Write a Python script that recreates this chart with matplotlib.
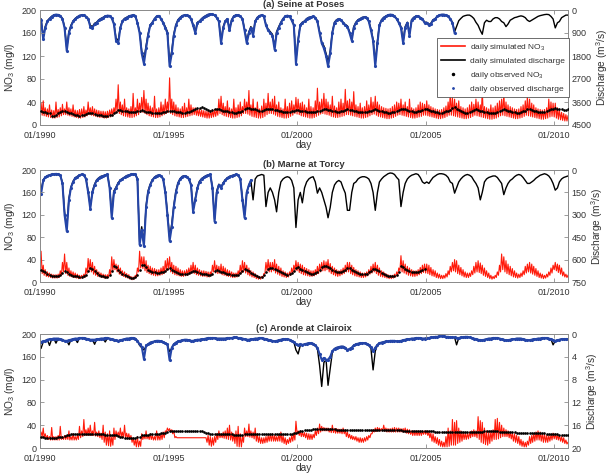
import matplotlib
matplotlib.use("Agg")
import matplotlib.pyplot as plt
import matplotlib.dates as mdates
from matplotlib.lines import Line2D
import pandas as pd

plt.rcParams['font.family'] = ['Liberation Sans', 'DejaVu Sans']
plt.rcParams['mathtext.fontset'] = 'custom'
plt.rcParams['mathtext.rm'] = 'Liberation Sans'
plt.rcParams['mathtext.it'] = 'Liberation Sans:italic'
plt.rcParams['mathtext.bf'] = 'Liberation Sans:bold'

# ---------------- data (monthly readings, Jan 1990 .. Jul 2010) ----------------
titles = ["(a) Seine at Poses", "(b) Marne at Torcy", "(c) Aronde at Clairoix"]
q_limits = [4500, 750, 20]
q_ticks = [[0, 900, 1800, 2700, 3600, 4500], [0, 150, 300, 450, 600, 750], [0, 4, 8, 12, 16, 20]]
no3_ticks = [0, 40, 80, 120, 160, 200]
year_ticks = [1990, 1995, 2000, 2005, 2010]

# ---- Seine ----
seine_q_obs = [
    380, 1150, 700, 450, 350, 260, 200, 180, 190, 230, 350, 700,
    1600, 900, 650, 450, 350, 280, 220, 200, 210, 260, 350, 650,
    700, 550, 500, 400, 350, 300, 250, 220, 230, 320, 550, 1200,
    1300, 700, 450, 350, 300, 250, 220, 200, 230, 500, 900, 1700,
    2100, 1500, 1000, 600, 500, 350, 250, 230, 350, 500, 700, 900,
    2200, 1700, 1000, 600, 400, 300, 230, 200, 210, 250, 350, 600,
    900, 500, 450, 350, 280, 230, 180, 160, 170, 200, 300, 450,
    1300, 700, 450, 350, 800, 400, 250, 200, 200, 250, 350, 800,
    1300, 900, 700, 1000, 450, 300, 230, 200, 250, 600, 800, 900,
    1000, 1550, 900, 700, 500, 350, 250, 220, 250, 400, 600, 2100,
    1200, 600, 500, 450, 350, 300, 280, 250, 300, 450, 900, 1300,
    1500, 1800, 2200, 1700, 900, 500, 400, 350, 400, 500, 600, 650,
    900, 1200, 700, 500, 400, 350, 300, 280, 300, 450, 800, 1200,
    2200, 1300, 600, 400, 300, 250, 200, 180, 190, 250, 350, 500,
    700, 1300, 700, 500, 1000, 400, 300, 250, 250, 300, 350, 500,
    500, 600, 550, 400, 350, 250, 200, 180, 180, 200, 250, 350,
    500, 900]
seine_q_sim = [
    350, 1050, 650, 420, 330, 250, 200, 180, 190, 220, 330, 650,
    1500, 850, 600, 430, 330, 270, 220, 200, 210, 250, 330, 600,
    650, 520, 480, 380, 330, 290, 240, 220, 230, 300, 520, 1100,
    1200, 650, 430, 330, 290, 240, 220, 200, 220, 480, 850, 1600,
    1950, 1400, 950, 580, 480, 340, 250, 230, 330, 480, 650, 850,
    2050, 1600, 950, 580, 380, 290, 230, 200, 210, 240, 330, 570,
    850, 480, 430, 340, 270, 220, 180, 160, 170, 200, 290, 430,
    1200, 650, 430, 340, 750, 380, 240, 200, 200, 240, 340, 750,
    1200, 850, 650, 950, 430, 290, 230, 200, 240, 570, 750, 850,
    950, 1450, 850, 650, 480, 340, 250, 220, 240, 380, 570, 1950,
    1150, 570, 480, 430, 340, 290, 270, 250, 290, 430, 850, 1250,
    1400, 1700, 2050, 1600, 850, 480, 380, 340, 380, 480, 570, 620,
    850, 1150, 650, 480, 380, 340, 290, 270, 290, 430, 750, 1150,
    2050, 1200, 570, 380, 290, 240, 200, 180, 190, 240, 340, 480,
    650, 1200, 650, 480, 950, 380, 290, 240, 240, 290, 340, 480,
    480, 570, 520, 380, 340, 240, 200, 180, 180, 200, 240, 340,
    480, 850, 650, 420, 330, 250, 220, 200, 200, 250, 330, 480,
    600, 800, 950, 500, 400, 450, 450, 350, 300, 300, 350, 450,
    500, 650, 550, 400, 350, 300, 280, 250, 230, 250, 300, 400,
    450, 400, 350, 300, 250, 220, 200, 180, 170, 180, 250, 350,
    700, 500, 450, 300, 250, 200, 200]
seine_no3_lo = [
    18, 17, 16, 15, 14, 13, 12, 12, 13, 14, 16, 18,
    18, 17, 16, 15, 14, 13, 12, 12, 13, 14, 16, 18,
    17, 16, 15, 14, 13, 13, 12, 12, 13, 14, 16, 20,
    22, 20, 18, 16, 15, 14, 13, 13, 14, 16, 18, 22,
    22, 20, 18, 16, 15, 14, 13, 13, 14, 16, 18, 20,
    22, 20, 18, 16, 15, 14, 13, 13, 14, 15, 16, 17,
    18, 17, 16, 15, 14, 13, 12, 12, 13, 14, 15, 17,
    20, 18, 16, 15, 14, 13, 12, 12, 13, 14, 16, 20,
    20, 19, 17, 15, 14, 13, 12, 12, 13, 15, 18, 20,
    20, 19, 17, 15, 14, 13, 12, 12, 13, 15, 17, 20,
    19, 18, 16, 15, 14, 13, 12, 12, 13, 15, 17, 19,
    20, 19, 18, 17, 15, 14, 13, 13, 14, 15, 16, 18,
    18, 17, 16, 15, 14, 13, 12, 12, 13, 14, 16, 18,
    19, 17, 15, 14, 13, 12, 11, 11, 12, 13, 15, 17,
    18, 17, 16, 15, 14, 13, 12, 12, 13, 14, 15, 17,
    17, 16, 15, 14, 13, 12, 11, 11, 12, 13, 15, 17,
    17, 16, 15, 14, 13, 12, 11, 11, 12, 13, 15, 17,
    16, 15, 14, 13, 12, 11, 10, 10, 11, 12, 14, 16,
    17, 16, 15, 14, 13, 12, 11, 11, 12, 13, 15, 17,
    16, 15, 14, 13, 12, 11, 10, 10, 11, 12, 14, 15,
    14, 12, 10, 9, 8, 7, 7]
seine_no3_hi = [
    38, 42, 30, 28, 35, 26, 25, 40, 27, 30, 36, 28,
    40, 30, 28, 35, 26, 25, 27, 28, 32, 26, 40, 30,
    32, 28, 26, 25, 24, 24, 23, 24, 26, 28, 30, 45,
    70, 40, 35, 45, 30, 28, 32, 55, 30, 45, 38, 48,
    60, 45, 38, 33, 30, 50, 28, 30, 40, 35, 45, 40,
    82, 45, 40, 35, 30, 28, 32, 38, 30, 45, 35, 30,
    30, 28, 27, 26, 25, 24, 24, 25, 26, 27, 28, 45,
    50, 38, 32, 42, 30, 28, 45, 30, 35, 40, 32, 45,
    40, 60, 35, 45, 30, 40, 28, 33, 45, 38, 55, 40,
    45, 50, 35, 40, 30, 28, 45, 32, 38, 42, 35, 48,
    45, 38, 40, 35, 30, 45, 32, 30, 42, 64, 40, 45,
    55, 45, 40, 35, 50, 33, 30, 40, 45, 38, 62, 42,
    45, 40, 58, 35, 32, 38, 30, 32, 42, 35, 48, 40,
    50, 40, 35, 32, 30, 29, 28, 29, 32, 35, 40, 38,
    45, 35, 40, 32, 45, 30, 28, 30, 35, 40, 38, 36,
    42, 35, 32, 30, 28, 27, 26, 27, 30, 33, 40, 55,
    48, 45, 38, 42, 32, 30, 28, 30, 35, 40, 36, 45,
    40, 35, 60, 32, 30, 28, 35, 30, 33, 38, 42, 45,
    55, 40, 35, 32, 30, 28, 27, 28, 32, 35, 42, 50,
    45, 38, 35, 30, 28, 27, 26, 27, 30, 45, 40, 38,
    38, 30, 26, 22, 20, 18, 16]
seine_no3_obs = [
    24, 23, 22, 21, 20, 16, 15, 17, 20, 22, 24, 24,
    22, 21, 20, 19, 18, 17, 16, 17, 18, 19, 20, 21,
    20, 19, 18, 18, 17, 16, 16, 16, 17, 18, 20, 22,
    26, 26, 25, 24, 24, 23, 22, 22, 23, 24, 25, 26,
    24, 23, 22, 22, 21, 21, 20, 20, 21, 22, 23, 24,
    25, 24, 24, 23, 23, 22, 21, 21, 22, 23, 24, 26,
    28, 29, 30, 31, 30, 28, 26, 25, 26, 27, 28, 27,
    26, 25, 24, 24, 23, 22, 21, 21, 22, 23, 24, 28,
    30, 29, 28, 28, 27, 26, 25, 25, 26, 27, 28, 28,
    27, 26, 26, 25, 24, 23, 22, 22, 23, 24, 25, 26,
    26, 25, 25, 24, 23, 22, 22, 22, 23, 24, 25, 26,
    27, 27, 26, 26, 25, 24, 23, 23, 24, 25, 26, 27,
    26, 26, 25, 24, 23, 23, 22, 22, 23, 24, 25, 26,
    27, 26, 25, 24, 23, 22, 21, 21, 22, 23, 24, 26,
    28, 28, 27, 26, 25, 24, 23, 23, 24, 25, 26, 27,
    27, 26, 25, 24, 23, 22, 21, 21, 22, 24, 25, 26,
    30, 31, 28, 26, 24, 22, 21, 21, 22, 24, 26, 28,
    26, 25, 24, 23, 22, 21, 20, 20, 21, 23, 24, 26,
    27, 26, 25, 24, 23, 22, 21, 21, 22, 24, 25, 27,
    27, 26, 25, 24, 23, 22, 22, 23, 24, 26, 27, 28,
    29, 28, 28, 27, 26, 26, 27]

# ---- Marne ----
marne_q_obs = [
    160, 70, 50, 40, 35, 30, 28, 26, 28, 35, 90, 300,
    410, 200, 120, 80, 55, 45, 35, 30, 32, 60, 150, 260,
    150, 100, 70, 55, 45, 40, 35, 30, 120, 320, 150, 120,
    90, 70, 60, 50, 40, 35, 30, 28, 30, 60, 500, 400,
    510, 250, 150, 100, 70, 50, 40, 35, 40, 60, 150, 300,
    475, 380, 250, 150, 90, 60, 45, 40, 45, 60, 100, 280,
    200, 120, 80, 60, 50, 40, 35, 30, 120, 345, 150, 100,
    120, 90, 70, 55, 45, 40, 35, 30, 35, 60, 200, 320,
    150, 100, 70]
marne_q_sim = [
    140, 65, 48, 38, 33, 29, 27, 25, 27, 33, 85, 280,
    390, 190, 115, 75, 52, 43, 34, 29, 31, 57, 140, 245,
    140, 95, 66, 52, 43, 38, 34, 29, 115, 300, 140, 115,
    85, 66, 57, 48, 38, 34, 29, 27, 29, 57, 480, 380,
    490, 240, 140, 95, 66, 48, 38, 34, 38, 57, 140, 285,
    450, 360, 240, 140, 85, 57, 43, 38, 43, 57, 95, 265,
    190, 115, 75, 57, 48, 38, 34, 29, 115, 330, 140, 95,
    115, 85, 66, 52, 43, 38, 34, 29, 34, 57, 190, 300,
    150, 100, 70, 200, 60, 40, 35, 30, 35, 245, 150, 120,
    150, 200, 280, 150, 80, 60, 50, 45, 50, 70, 120, 385,
    200, 150, 220, 120, 80, 60, 50, 45, 80, 155, 120, 150,
    200, 250, 320, 250, 150, 100, 80, 70, 80, 120, 155, 270,
    270, 150, 90, 80, 60, 50, 45, 45, 50, 60, 90, 150,
    270, 150, 80, 60, 45, 35, 25, 20, 22, 30, 50, 65,
    245, 150, 90, 60, 45, 35, 30, 25, 30, 50, 80, 90,
    80, 90, 70, 50, 40, 30, 25, 25, 28, 35, 50, 80,
    90, 155, 120, 80, 60, 45, 35, 30, 35, 45, 70, 90,
    120, 200, 150, 80, 60, 50, 45, 40, 40, 50, 70, 90,
    165, 120, 90, 70, 60, 45, 35, 30, 35, 50, 70, 90,
    90, 80, 70, 55, 45, 35, 30, 25, 30, 40, 60, 90,
    135, 120, 80, 60, 50, 45, 40]
marne_no3_lo = [
    18, 15, 12, 10, 9, 8, 7, 7, 7, 8, 12, 18,
    15, 12, 10, 9, 8, 7, 6, 6, 7, 8, 15, 20,
    18, 14, 12, 10, 9, 8, 7, 7, 8, 12, 20, 22,
    18, 14, 12, 10, 8, 7, 5, 4, 5, 8, 18, 25,
    24, 20, 17, 15, 13, 12, 11, 11, 12, 13, 15, 20,
    22, 18, 15, 13, 12, 11, 10, 10, 11, 12, 14, 16,
    15, 13, 12, 11, 10, 10, 9, 9, 12, 18, 16, 15,
    15, 13, 12, 11, 10, 9, 8, 8, 9, 12, 16, 18,
    16, 13, 11, 9, 8, 6, 5, 5, 7, 15, 20, 18,
    18, 20, 16, 14, 12, 10, 9, 8, 9, 12, 15, 20,
    20, 17, 15, 13, 12, 11, 10, 10, 11, 13, 15, 18,
    20, 20, 22, 18, 15, 13, 11, 10, 11, 13, 15, 18,
    18, 15, 13, 11, 10, 9, 8, 8, 9, 11, 14, 16,
    18, 15, 12, 10, 9, 8, 7, 6, 6, 7, 9, 12,
    20, 18, 16, 14, 12, 11, 10, 10, 11, 13, 15, 17,
    16, 15, 13, 11, 10, 8, 7, 6, 6, 7, 9, 13,
    18, 20, 18, 15, 13, 11, 9, 8, 8, 10, 13, 16,
    18, 17, 15, 12, 10, 8, 6, 5, 6, 8, 12, 18,
    22, 18, 15, 13, 11, 9, 8, 7, 8, 10, 13, 16,
    18, 16, 14, 12, 10, 8, 7, 6, 7, 9, 12, 16,
    22, 20, 17, 14, 11, 9, 8]
marne_no3_hi = [
    55, 30, 22, 18, 16, 14, 13, 13, 14, 20, 35, 50,
    35, 25, 20, 18, 16, 14, 12, 12, 14, 25, 42, 40,
    35, 28, 22, 18, 16, 14, 13, 13, 22, 45, 40, 32,
    30, 25, 20, 18, 15, 13, 10, 9, 12, 25, 55, 45,
    45, 38, 30, 28, 25, 24, 22, 22, 25, 28, 38, 42,
    45, 35, 30, 28, 25, 22, 20, 20, 22, 25, 30, 35,
    30, 25, 22, 20, 20, 19, 18, 18, 30, 38, 30, 28,
    32, 28, 25, 22, 20, 18, 16, 16, 20, 30, 38, 35,
    30, 25, 20, 18, 15, 12, 10, 10, 15, 35, 40, 35,
    35, 40, 32, 28, 25, 20, 18, 16, 18, 25, 30, 38,
    35, 32, 30, 26, 24, 22, 20, 20, 22, 28, 32, 35,
    38, 36, 40, 33, 28, 25, 22, 20, 22, 25, 30, 35,
    35, 30, 26, 22, 20, 18, 16, 16, 18, 22, 28, 32,
    35, 30, 25, 20, 18, 15, 13, 12, 12, 14, 18, 25,
    47, 38, 32, 28, 25, 22, 20, 20, 22, 26, 30, 32,
    32, 30, 26, 22, 20, 16, 14, 12, 12, 15, 20, 28,
    35, 40, 38, 30, 26, 22, 18, 16, 16, 20, 28, 35,
    38, 34, 30, 25, 20, 16, 12, 10, 12, 18, 30, 50,
    45, 38, 32, 28, 24, 20, 16, 14, 16, 20, 28, 32,
    35, 32, 28, 24, 20, 16, 14, 12, 14, 18, 25, 30,
    35, 32, 30, 25, 18, 14, 12]
marne_no3_obs = [
    22, 20, 17, 14, 12, 11, 10, 10, 10, 12, 16, 20,
    18, 15, 12, 11, 10, 10, 9, 9, 10, 12, 20, 25,
    24, 20, 16, 13, 11, 10, 9, 9, 12, 20, 28, 26,
    22, 18, 15, 13, 11, 9, 8, 8, 9, 12, 22, 30,
    30, 26, 22, 20, 18, 17, 16, 16, 17, 18, 20, 24,
    25, 22, 19, 17, 16, 15, 14, 14, 15, 16, 18, 20,
    20, 18, 16, 15, 14, 14, 13, 13, 15, 20, 22, 20,
    18, 17, 16, 15, 14, 13, 12, 12, 13, 16, 20, 24,
    22, 19, 16, 14, 12, 10, 9, 9, 12, 18, 24, 25,
    25, 24, 22, 20, 18, 16, 14, 13, 14, 16, 20, 25,
    26, 24, 22, 20, 18, 16, 15, 15, 16, 18, 22, 26,
    28, 28, 27, 25, 22, 20, 18, 17, 18, 20, 22, 25,
    25, 22, 20, 18, 16, 15, 14, 14, 15, 17, 20, 23,
    24, 22, 19, 16, 14, 12, 11, 10, 10, 11, 13, 18,
    28, 26, 24, 22, 20, 18, 17, 17, 18, 20, 22, 24]

# ---- Aronde ----
aronde_q_obs = [
    1.4, 1.3, 1.2, 1.0, 0.9, 0.9, 0.8, 0.8, 0.8, 0.9, 1.0, 1.2,
    1.2, 1.1, 1.0, 0.9, 0.8, 0.8, 0.7, 0.7, 0.7, 0.8, 0.9, 1.0,
    1.0, 1.0, 0.9, 0.9, 0.8, 0.8, 0.7, 0.7, 0.8, 0.9, 1.0, 1.1,
    1.2, 1.1, 1.0, 0.9, 0.8, 0.8, 0.7, 0.7, 0.8, 1.2, 1.8, 2.2,
    4.4, 2.0, 1.8, 1.5, 1.4, 1.3, 1.2, 1.2, 1.3, 1.4, 1.6, 1.8,
    4.6, 2.4, 1.8, 1.5, 1.3, 1.2, 1.1, 1.0, 1.0, 1.1, 1.2, 1.2,
    1.1, 1.0, 1.0, 0.9, 0.9, 0.8, 0.7, 0.7, 0.7, 0.7, 0.8, 0.8,
    0.8, 0.8, 0.8, 0.7, 0.7, 0.7, 0.6, 0.6, 0.7, 0.7, 0.8, 0.9,
    1.0, 1.0, 0.9, 0.9, 0.8, 0.8, 0.7, 0.7, 0.8, 0.9, 1.0, 1.1,
    1.2, 1.3, 1.2, 1.1, 1.0, 0.9, 0.9, 0.9, 1.0, 1.2, 1.4, 1.8,
    1.9, 1.8, 1.9, 1.8, 1.7, 1.6, 1.6, 1.7, 2.0, 2.4, 3.5, 4.5,
    4.2, 4.5, 4.5, 4.0, 3.0, 2.6, 2.4, 2.3, 2.2, 2.2, 2.4, 2.8,
    2.6, 2.4, 2.0, 1.8, 1.7, 1.6, 1.6, 1.6, 1.7, 1.9, 2.3, 3.0,
    2.4, 1.9, 1.6, 1.5, 1.4, 1.3, 1.3, 1.2, 1.2, 1.2, 1.3, 1.3,
    1.2, 1.1, 1.0, 0.9, 0.9, 0.8, 0.8, 0.7, 0.7, 0.7, 0.8, 0.8,
    0.7, 0.7, 0.6, 0.6, 0.5, 0.5, 0.4, 0.4, 0.4, 0.5, 0.5, 0.6,
    0.6, 0.6, 0.7, 0.7, 0.6, 0.6, 0.5, 0.5, 0.6, 0.7, 0.8, 0.9,
    1.0, 1.1, 1.1, 1.0, 0.9, 0.8, 0.8, 0.7, 0.7, 0.7, 0.8, 0.9,
    1.0, 1.1, 1.1, 1.0, 0.9, 0.9, 0.8, 0.8, 0.8, 0.9, 1.0, 1.1,
    1.1, 1.0, 0.9, 0.9, 0.8, 0.8, 0.7, 0.7, 0.7, 0.8, 0.9, 1.1,
    1.2, 1.1, 1.0, 0.9, 0.9, 0.9, 0.9]
aronde_q_sim = [
    2.5, 1.4, 1.2, 1.0, 2.0, 0.9, 0.8, 1.6, 0.8, 0.9, 1.0, 1.3,
    1.2, 1.9, 1.0, 0.9, 0.8, 1.5, 0.7, 0.7, 0.7, 0.8, 1.0, 1.1,
    1.0, 1.8, 0.9, 0.9, 0.8, 0.8, 1.4, 0.7, 0.8, 0.9, 1.1, 1.2,
    1.3, 1.1, 1.0, 0.9, 0.8, 0.8, 0.7, 0.7, 0.8, 1.2, 2.0, 2.4,
    2.8, 2.2, 1.8, 1.5, 1.4, 1.3, 1.2, 1.2, 1.3, 1.4, 1.6, 1.9,
    3.1, 2.5, 1.8, 1.5, 1.3, 1.2, 1.1, 1.0, 1.0, 1.1, 1.2, 1.2,
    1.1, 1.0, 1.0, 0.9, 0.9, 0.8, 0.7, 0.7, 0.7, 0.7, 0.8, 0.8,
    0.8, 0.8, 0.8, 0.7, 0.7, 0.7, 0.6, 0.6, 0.7, 0.7, 0.8, 0.9,
    1.0, 1.1, 0.9, 0.9, 0.8, 0.8, 0.7, 0.7, 0.8, 0.9, 1.0, 1.2,
    1.2, 1.3, 1.2, 1.1, 1.0, 0.9, 0.9, 0.9, 1.0, 1.2, 1.4, 2.8,
    3.5, 2.0, 1.9, 1.8, 1.7, 1.6, 1.6, 1.7, 2.0, 2.6, 5.5, 9.2,
    5.0, 4.5, 9.0, 6.0, 3.2, 2.6, 2.4, 2.3, 2.2, 2.2, 2.4, 3.0,
    2.6, 2.4, 2.0, 1.8, 1.7, 1.6, 1.6, 1.6, 1.7, 1.9, 2.6, 6.3,
    3.0, 1.9, 1.6, 1.5, 1.4, 1.3, 1.3, 1.2, 1.2, 1.2, 1.3, 1.3,
    1.2, 1.1, 1.0, 0.9, 0.9, 0.8, 0.8, 0.7, 0.7, 0.7, 0.8, 0.8,
    0.7, 0.7, 0.6, 0.6, 0.5, 0.5, 0.4, 0.4, 0.4, 0.5, 0.5, 0.6,
    0.6, 0.6, 1.9, 0.7, 0.6, 0.6, 0.5, 0.5, 0.6, 0.7, 0.8, 0.9,
    1.0, 1.1, 1.1, 1.0, 0.9, 0.8, 0.8, 0.7, 0.7, 0.7, 0.8, 0.9,
    1.0, 1.1, 1.1, 1.0, 0.9, 0.9, 0.8, 0.8, 0.8, 0.9, 1.0, 1.1,
    1.1, 1.0, 0.9, 0.9, 0.8, 0.8, 0.7, 0.7, 0.7, 0.8, 0.9, 1.9,
    1.2, 1.1, 1.0, 0.9, 0.9, 0.9, 0.9]
aronde_no3_lo = [
    22, 20, 18, 16, 15, 14, 14, 14, 14, 14, 15, 15,
    15, 15, 14, 14, 14, 14, 15, 18, 20, 22, 22, 22,
    22, 22, 21, 20, 18, 15, 10, 5, 4, 3, 5, 15,
    20, 20, 19, 18, 18, 17, 15, 10, 5, 2, 2, 3,
    15, 16, 16, 15, 15, 14, 14, 14, 14, 15, 18, 28,
    30, 28, 25, 18, 18, 18, 18, 18, 18, 18, 18, 18,
    18, 18, 18, 18, 18, 18, 10, 5, 3, 5, 10, 15,
    18, 18, 17, 16, 15, 14, 12, 8, 3, 2, 2, 10,
    20, 20, 19, 18, 16, 12, 10, 8, 8, 9, 10, 12,
    12, 12, 12, 12, 12, 10, 8, 6, 8, 10, 12, 14,
    25, 22, 20, 20, 18, 15, 15, 15, 18, 22, 25, 28,
    30, 30, 30, 28, 27, 27, 26, 26, 26, 25, 25, 20,
    18, 16, 15, 14, 12, 10, 10, 10, 12, 14, 18, 25,
    28, 29, 30, 30, 30, 29, 28, 28, 28, 28, 28, 28,
    28, 28, 28, 26, 25, 24, 22, 22, 22, 22, 22, 24,
    24, 22, 18, 12, 10, 8, 5, 3, 2, 2, 2, 3,
    5, 5, 5, 8, 10, 12, 15, 15, 16, 18, 20, 20,
    18, 15, 10, 8, 6, 5, 8, 12, 15, 15, 16, 18,
    20, 20, 20, 18, 16, 12, 10, 8, 5, 3, 2, 2,
    5, 8, 10, 12, 14, 14, 12, 10, 10, 10, 12, 14,
    16, 15, 14, 12, 10, 8, 7]
aronde_no3_hi = [
    28, 35, 25, 22, 20, 36, 20, 20, 22, 38, 20, 22,
    22, 30, 20, 25, 20, 22, 38, 30, 50, 32, 35, 40,
    30, 45, 28, 30, 26, 40, 28, 25, 30, 20, 35, 30,
    28, 35, 28, 40, 26, 25, 22, 18, 15, 20, 12, 25,
    22, 30, 22, 25, 22, 20, 30, 22, 25, 28, 30, 35,
    34, 32, 30, 20, 18, 18, 18, 18, 18, 18, 18, 18,
    18, 18, 18, 18, 18, 18, 22, 20, 18, 20, 25, 30,
    25, 28, 30, 35, 40, 28, 25, 30, 38, 25, 20, 35,
    30, 42, 30, 28, 35, 25, 20, 18, 18, 20, 22, 24,
    25, 22, 20, 24, 28, 22, 18, 15, 18, 22, 26, 47,
    30, 30, 28, 27, 26, 25, 24, 24, 30, 35, 42, 38,
    36, 35, 35, 34, 40, 34, 34, 33, 33, 35, 32, 28,
    24, 22, 20, 20, 18, 18, 17, 18, 20, 22, 25, 32,
    35, 36, 35, 34, 40, 35, 34, 34, 35, 36, 35, 35,
    34, 34, 35, 33, 32, 30, 30, 30, 30, 30, 30, 30,
    30, 28, 26, 25, 20, 18, 15, 12, 10, 20, 35, 30,
    50, 45, 48, 35, 30, 28, 26, 26, 28, 30, 32, 30,
    55, 48, 45, 35, 30, 28, 30, 32, 50, 52, 45, 40,
    35, 32, 30, 28, 26, 25, 22, 20, 15, 12, 10, 12,
    20, 22, 25, 28, 30, 28, 25, 25, 22, 22, 24, 26,
    25, 24, 22, 20, 18, 14, 10]
aronde_no3_obs = [
    19, 19, 18, 18, 17, 17, 18, 18, 19, 20, 20, 21,
    23, 23, 24, 24, 25, 25, 25, 25, 25, 25, 25, 25,
    25, 25, 25, 24, 24, 24, 23, 23, 22, 22, 22, 22,
    21, 20, 19, 18, 17, 17, 17, 17, 18, 19, 20, 22,
    23, 23, 23, 24, 24, 24, 25, 25, 26, 26, 27, 28,
    29, 29, 30, 30, 30, 30, 30, 30, 30, 30, 30, 30,
    30, 30, 29, 29, 28, 27, 26, 25, 25, 24, 24, 24,
    24, 24, 24, 24, 24, 24, 23, 23, 23, 23, 23, 24,
    24, 24, 24, 25, 25, 25, 25, 25, 25, 25, 25, 25,
    25, 25, 25, 25, 25, 24, 24, 24, 24, 25, 26, 27,
    28, 29, 30, 31, 31, 32, 32, 33, 33, 33, 33, 33,
    33, 33, 33, 33, 33, 33, 32, 32, 32, 32, 32, 32,
    32, 32, 31, 31, 31, 31, 31, 31, 32, 32, 32, 32,
    32, 32, 32, 32, 32, 32, 31, 31, 31, 31, 31, 31,
    31, 30, 30, 30, 30, 30, 29, 29, 29, 29, 29, 29,
    29, 29, 29, 29, 28, 28, 28, 28, 28, 28, 28, 28,
    28, 28, 28, 28, 28, 28, 28, 28, 28, 28, 28, 28,
    28, 28, 28, 29, 29, 29, 29, 29, 29, 29, 28, 28,
    28, 28, 28, 28, 28, 28, 27, 27, 27, 27, 27, 27,
    27, 27, 27, 27, 26, 26, 26, 26, 25, 25, 25, 25,
    24, 24, 23, 23, 22, 22, 22]

panels = [
    (seine_q_sim, seine_q_obs, seine_no3_lo, seine_no3_hi, seine_no3_obs),
    (marne_q_sim, marne_q_obs, marne_no3_lo, marne_no3_hi, marne_no3_obs),
    (aronde_q_sim, aronde_q_obs, aronde_no3_lo, aronde_no3_hi, aronde_no3_obs),
]

# ---------------- plotting ----------------
months = pd.date_range("1990-01-01", periods=260, freq="MS")
half = pd.Timedelta(days=15)

RED = "#ff1a0a"
BLUE = "#2445a8"
TXT = "#333333"
SPINE = "#8c8c8c"

fig = plt.figure(figsize=(6.09, 4.73), dpi=100)
W = 609.0
H = 473.0
boxes = [(10, 125), (170, 282), (334, 448)]
x0, x1 = 40, 568

for i, ((qs, qo, lo, hi, ob), (top, bot)) in enumerate(zip(panels, boxes)):
    ax = fig.add_axes([x0 / W, 1 - bot / H, (x1 - x0) / W, (bot - top) / H])
    ax2 = ax.twinx()
    ax.set_zorder(ax2.get_zorder() + 1)
    ax.patch.set_visible(False)

    # simulated NO3: zigzag through monthly low/high readings
    n = min(len(lo), len(hi))
    xs, ys = [], []
    for k in range(n):
        xs += [months[k], months[k] + half]
        ys += [lo[k], hi[k]]
    ax.plot(xs, ys, color=RED, lw=0.8, zorder=2)
    ax.plot(months[:len(ob)] + half, ob, ls="none", marker=".", ms=1.8,
            color="black", zorder=3)

    ax2.plot(months[:len(qs)] + half, qs, color="black", lw=1.0, zorder=2)
    ax2.plot(months[:len(qo)] + half, qo, color=BLUE, lw=1.5, marker=".",
             ms=2.5, zorder=3)

    ax.set_ylim(0, 200)
    ax.set_yticks(no3_ticks)
    ax2.set_ylim(q_limits[i], 0)
    ax2.set_yticks(q_ticks[i])
    ax.set_xlim(pd.Timestamp("1990-01-01"), pd.Timestamp("2010-07-16"))
    ax.set_xticks([pd.Timestamp(f"{y}-01-01") for y in year_ticks])
    ax.xaxis.set_major_formatter(mdates.DateFormatter("%m/%Y"))

    for a in (ax, ax2):
        for s in a.spines.values():
            s.set_color(SPINE)
            s.set_linewidth(0.7)
        a.tick_params(direction="in", length=3, width=0.6, color=SPINE,
                      labelsize=6.5, labelcolor=TXT, pad=2.5)
    ax.tick_params(axis="x", top=True, pad=4)

    ax.set_ylabel("NO$_3$ (mg/l)", fontsize=7.3, color=TXT, labelpad=3)
    ax2.set_ylabel("Discharge (m$^3$/s)", fontsize=7.3, color=TXT, labelpad=2)
    ax.set_xlabel("day", fontsize=7.3, color=TXT, labelpad=0.5)
    ax.set_title(titles[i], fontsize=6.8, fontweight="bold", color=TXT, pad=2)

    if i == 0:
        handles = [
            Line2D([], [], color=RED, lw=1.2),
            Line2D([], [], color="black", lw=1.2),
            Line2D([], [], color="black", ls="none", marker=".", ms=3),
            Line2D([], [], color=BLUE, ls="none", marker=".", ms=2),
        ]
        labels = ["daily simulated NO$_3$", "daily simulated discharge",
                  "daily observed NO$_3$", "daily observed discharge"]
        leg = ax.legend(handles, labels, loc="upper left",
                        bbox_to_anchor=(0.752, 0.757), fontsize=6.0,
                        frameon=True, fancybox=False, borderpad=0.45,
                        labelspacing=0.55, handlelength=2.9, handletextpad=0.6,
                        borderaxespad=0)
        leg.get_frame().set_edgecolor("#555555")
        leg.get_frame().set_linewidth(0.6)
        leg.get_frame().set_alpha(1)
        for t in leg.get_texts():
            t.set_color(TXT)

fig.savefig("out.png", dpi=100)
